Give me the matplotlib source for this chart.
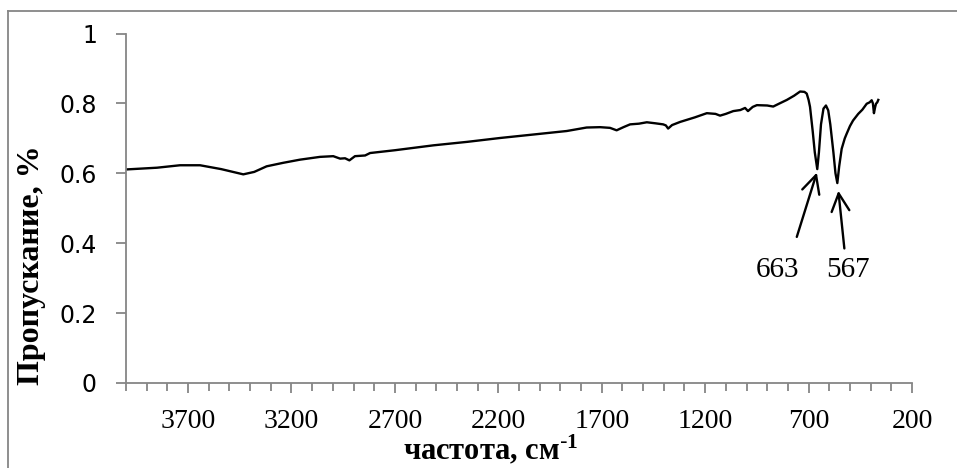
import matplotlib
matplotlib.use('Agg')
import matplotlib.pyplot as plt
from matplotlib.lines import Line2D
from matplotlib.ticker import MultipleLocator

# ИК-спектр: волновое число (см-1) и пропускание
freq = [4000, 3850, 3739, 3642, 3540, 3433, 3380, 3320, 3240, 3159, 3062,
        2998, 2965, 2941, 2920, 2893, 2844, 2820, 2700, 2514, 2350, 2192,
        2030, 1869, 1773, 1708, 1660, 1628, 1595, 1563, 1520, 1482, 1440,
        1403, 1390, 1379, 1360, 1321, 1250, 1192, 1150, 1128, 1100, 1064,
        1030, 1007, 993, 970, 950, 900, 871, 840, 805, 770, 741, 720, 709,
        700, 693, 680, 670, 658, 650, 640, 628, 616, 605, 595, 580, 570,
        561, 552, 540, 525, 516, 500, 485, 460, 440, 419, 405, 395, 389,
        384, 378, 374, 368, 363]
trans = [0.611, 0.616, 0.623, 0.623, 0.612, 0.597, 0.604, 0.620, 0.630,
         0.639, 0.647, 0.649, 0.642, 0.643, 0.637, 0.649, 0.651, 0.658,
         0.666, 0.680, 0.690, 0.701, 0.711, 0.721, 0.731, 0.732, 0.730,
         0.723, 0.732, 0.740, 0.742, 0.746, 0.743, 0.740, 0.737, 0.728,
         0.738, 0.747, 0.760, 0.772, 0.770, 0.765, 0.770, 0.778, 0.781,
         0.787, 0.778, 0.790, 0.795, 0.794, 0.791, 0.800, 0.810, 0.822,
         0.834, 0.833, 0.828, 0.810, 0.790, 0.720, 0.660, 0.612, 0.660,
         0.740, 0.785, 0.794, 0.780, 0.740, 0.660, 0.600, 0.572, 0.620,
         0.670, 0.700, 0.713, 0.735, 0.751, 0.770, 0.782, 0.799, 0.803,
         0.809, 0.800, 0.772, 0.790, 0.799, 0.803, 0.810]

peak_labels = ['663', '567']
peak_tips = [(660, 0.602), (556, 0.550)]
peak_tails = [(757, 0.418), (527, 0.385)]
label_pos = [(852, 0.322), (508, 0.322)]

x_ticks = [3700, 3200, 2700, 2200, 1700, 1200, 700, 200]
y_ticks = [0, 0.2, 0.4, 0.6, 0.8, 1]

plt.rcParams['mathtext.default'] = 'regular'
grey = '#868686'

fig = plt.figure(figsize=(9.57, 4.68), dpi=100)
ax = fig.add_axes([126 / 957, 85 / 468, 786 / 957, 349.5 / 468])

ax.plot(freq, trans, color='black', lw=1.7)

ax.set_xlim(4000, 200)
ax.set_ylim(0, 1)
ax.set_xticks(x_ticks)
ax.xaxis.set_minor_locator(MultipleLocator(100))
ax.set_yticks(y_ticks)
ax.set_yticklabels(['0', '0.2', '0.4', '0.6', '0.8', '1'],
                   family='DejaVu Sans', fontsize=17)
ax.set_xticklabels([str(t) for t in x_ticks],
                   family='Liberation Serif', fontsize=20)

for s in ['top', 'right']:
    ax.spines[s].set_visible(False)
for s in ['left', 'bottom']:
    ax.spines[s].set_color(grey)
    ax.spines[s].set_linewidth(1.3)
ax.tick_params(axis='y', which='major', direction='out', length=7,
               width=1.3, color=grey, pad=14)
ax.tick_params(axis='x', which='both', direction='out', length=6,
               width=1.3, color=grey)
ax.tick_params(axis='x', which='major', length=7, pad=12)

for lab, tip, tail, pos in zip(peak_labels, peak_tips, peak_tails, label_pos):
    ax.annotate('', xy=tip, xytext=tail,
                arrowprops=dict(arrowstyle='->', color='black', lw=1.7,
                                mutation_scale=32, shrinkA=0, shrinkB=0))
    ax.text(pos[0], pos[1], lab, family='Liberation Serif', fontsize=21,
            ha='center', va='center')

fig.text(32 / 957, 1 - 265 / 468, 'Пропускание, %', rotation=90,
         family='Liberation Serif', fontweight='bold', fontsize=23,
         ha='center', va='center')
fig.text(491 / 957, 1 - 459 / 468, r'частота, см$^{\text{-}1}$',
         family='Liberation Serif', fontweight='bold', fontsize=22,
         ha='center', va='baseline')

# рамка области диаграммы
fig.add_artist(Line2D([8 / 957, 8 / 957], [0, 1 - 10.5 / 468],
                      transform=fig.transFigure, color=grey, lw=1.3))
fig.add_artist(Line2D([8 / 957, 1], [1 - 10.5 / 468, 1 - 10.5 / 468],
                      transform=fig.transFigure, color=grey, lw=1.3))

fig.savefig('out.png', dpi=100)
